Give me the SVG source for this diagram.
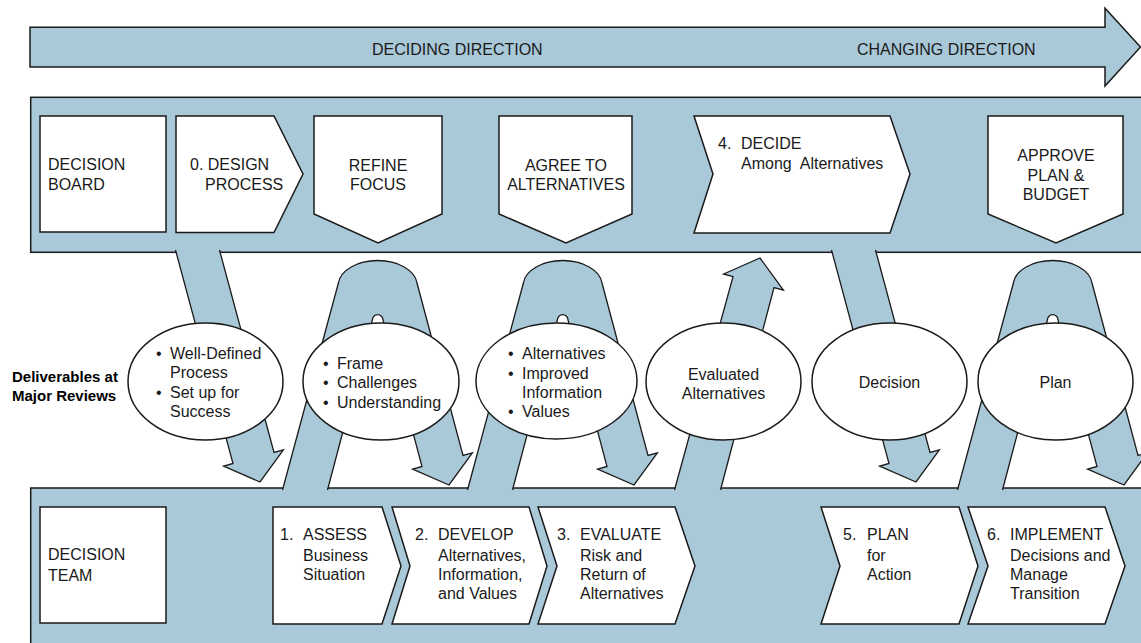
<svg xmlns="http://www.w3.org/2000/svg" width="1141" height="643" viewBox="0 0 1141 643">
<style>
.band{fill:#a9c8d8;stroke:#1a1a1a;stroke-width:1.5}
.box{fill:#ffffff;stroke:#1a1a1a;stroke-width:1.5;stroke-linejoin:miter}
.arr{fill:#a9c8d8;stroke:#1a1a1a;stroke-width:1.3;stroke-linejoin:miter}
.ell{fill:#ffffff;stroke:#1a1a1a;stroke-width:1.5}
.t{font-family:"Liberation Sans",Arial,Helvetica,sans-serif;font-size:16px;fill:#1a1a1a}
.m{text-anchor:middle}
.bd{font-family:"Liberation Sans",Arial,Helvetica,sans-serif;font-size:15px;font-weight:bold;fill:#000}
</style>
<rect width="1141" height="643" fill="#ffffff"/>

<g id="direction-arrow">
<path class="band" d="M30,27.3 H1105 V8.3 L1140.5,47 L1105,86 V67 H30 Z"/>
<text class="t" x="372" y="55">DECIDING DIRECTION</text>
<text class="t" x="857" y="55">CHANGING DIRECTION</text>
</g>

<g id="board-band">
<rect class="band" x="30.7" y="97.3" width="1125" height="155"/>
</g>
<g id="decision-board">
<rect class="box" x="40" y="116" width="126" height="116"/>
<text class="t" x="48" y="170">DECISION</text>
<text class="t" x="48" y="190">BOARD</text>
</g>
<g id="design-process">
<path class="box" d="M176,116 H274 L303,174 L274,232.5 H176 Z"/>
<text class="t" x="190" y="170">0. DESIGN</text>
<text class="t" x="205" y="190">PROCESS</text>
</g>
<g id="refine-focus">
<path class="box" d="M314,116 H442 V214 L378,243 L314,214 Z"/>
<text class="t m" x="378" y="170.5">REFINE</text>
<text class="t m" x="378" y="190">FOCUS</text>
</g>
<g id="agree-alternatives">
<path class="box" d="M499,116 H632 V214 L566,243 L499,214 Z"/>
<text class="t m" x="566" y="170.5">AGREE TO</text>
<text class="t m" x="566" y="190">ALTERNATIVES</text>
</g>
<g id="decide">
<path class="box" d="M694,116 H890 L910,174 L890,233 H694 L713,174 Z"/>
<text class="t" x="718" y="149">4.</text>
<text class="t" x="741" y="149">DECIDE</text>
<text class="t" x="741" y="168.5">Among&#160; Alternatives</text>
</g>
<g id="approve-plan">
<path class="box" d="M988,116 H1123 V214 L1056,243 L988,214 Z"/>
<text class="t m" x="1056" y="161">APPROVE</text>
<text class="t m" x="1056" y="180.5">PLAN &amp;</text>
<text class="t m" x="1056" y="200">BUDGET</text>
</g>

<g id="team-band">
<rect class="band" x="30.7" y="488" width="1125" height="170"/>
</g>
<g id="decision-team">
<rect class="box" x="40" y="507" width="126" height="116"/>
<text class="t" x="48" y="560">DECISION</text>
<text class="t" x="48" y="581">TEAM</text>
</g>
<g id="assess">
<path class="box" d="M273,507 H382 L401,566 L382,624 H273 Z"/>
<text class="t" x="280" y="540">1.</text>
<text class="t" x="303" y="540">ASSESS</text>
<text class="t" x="303" y="560.7">Business</text>
<text class="t" x="303" y="580">Situation</text>
</g>
<g id="develop">
<path class="box" d="M392,507 H529 L547,566 L529,624 H392 L410,566 Z"/>
<text class="t" x="415" y="540">2.</text>
<text class="t" x="438" y="540">DEVELOP</text>
<text class="t" x="438" y="560.7">Alternatives,</text>
<text class="t" x="438" y="580">Information,</text>
<text class="t" x="438" y="599.3">and Values</text>
</g>
<g id="evaluate">
<path class="box" d="M538,507 H675 L695,566 L675,624 H538 L557,566 Z"/>
<text class="t" x="557" y="540">3.</text>
<text class="t" x="580" y="540">EVALUATE</text>
<text class="t" x="580" y="560.7">Risk and</text>
<text class="t" x="580" y="580">Return of</text>
<text class="t" x="580" y="599.3">Alternatives</text>
</g>
<g id="plan-action">
<path class="box" d="M821,507 H959 L978,566 L959,624 H821 L840,566 Z"/>
<text class="t" x="843" y="540">5.</text>
<text class="t" x="867" y="540">PLAN</text>
<text class="t" x="867" y="560.7">for</text>
<text class="t" x="867" y="580">Action</text>
</g>
<g id="implement">
<path class="box" d="M968,507 H1105 L1125,566 L1105,624 H968 L988,566 Z"/>
<text class="t" x="987" y="540">6.</text>
<text class="t" x="1010" y="540">IMPLEMENT</text>
<text class="t" x="1010" y="560.7">Decisions and</text>
<text class="t" x="1010" y="580">Manage</text>
<text class="t" x="1010" y="599.3">Transition</text>
</g>

<g id="connectors">
<path class="arr" d="M175.5,250 L233,463.5 L223.6,466.1 L260,482 L283.4,449.9 L274,452.5 L219.5,250"/>
<path class="arr" d="M282.5,490 L338.4,283 A39.5,25 0 0 1 417,283 L463,455.5 L472.4,452.9 L449,485 L412.6,469.1 L422,466.5 L383,320 A5.3,5.3 0 0 0 372.4,320 L327.5,490"/>
<path class="arr" transform="translate(185,0)" d="M282.5,490 L338.4,283 A39.5,25 0 0 1 417,283 L463,455.5 L472.4,452.9 L449,485 L412.6,469.1 L422,466.5 L383,320 A5.3,5.3 0 0 0 372.4,320 L327.5,490"/>
<path class="arr" d="M674.5,490 L733,276.6 L723.6,274 L760,258 L783.4,290.2 L774,287.6 L720.5,490"/>
<path class="arr" transform="translate(656,0)" d="M175.5,250 L233,463.5 L223.6,466.1 L260,482 L283.4,449.9 L274,452.5 L219.5,250"/>
<path class="arr" transform="translate(675,0)" d="M282.5,490 L338.4,283 A39.5,25 0 0 1 417,283 L463,455.5 L472.4,452.9 L449,485 L412.6,469.1 L422,466.5 L383,320 A5.3,5.3 0 0 0 372.4,320 L327.5,490"/>
</g>

<g id="deliverables-label">
<text class="bd" x="12" y="382">Deliverables at</text>
<text class="bd" x="12" y="401">Major Reviews</text>
</g>
<g id="deliverable-process">
<ellipse class="ell" cx="205.5" cy="381.5" rx="77.5" ry="58.5"/>
<text class="t" x="156" y="359">•</text><text class="t" x="170" y="359">Well-Defined</text>
<text class="t" x="170" y="378.3">Process</text>
<text class="t" x="156" y="397.7">•</text><text class="t" x="170" y="397.7">Set up for</text>
<text class="t" x="170" y="416.7">Success</text>
</g>
<g id="deliverable-frame">
<ellipse class="ell" cx="381" cy="381.5" rx="78" ry="58.5"/>
<text class="t" x="323" y="369">•</text><text class="t" x="337" y="369">Frame</text>
<text class="t" x="323" y="388.3">•</text><text class="t" x="337" y="388.3">Challenges</text>
<text class="t" x="323" y="407.7">•</text><text class="t" x="337" y="407.7">Understanding</text>
</g>
<g id="deliverable-alternatives">
<ellipse class="ell" cx="556.5" cy="381" rx="80.5" ry="58"/>
<text class="t" x="508" y="359">•</text><text class="t" x="522" y="359">Alternatives</text>
<text class="t" x="508" y="379">•</text><text class="t" x="522" y="379">Improved</text>
<text class="t" x="522" y="397.7">Information</text>
<text class="t" x="508" y="417">•</text><text class="t" x="522" y="417">Values</text>
</g>
<g id="deliverable-evaluated">
<ellipse class="ell" cx="723.5" cy="381.5" rx="77.5" ry="58.5"/>
<text class="t m" x="723.5" y="380">Evaluated</text>
<text class="t m" x="723.5" y="399">Alternatives</text>
</g>
<g id="deliverable-decision">
<ellipse class="ell" cx="889.5" cy="381.5" rx="77.5" ry="58.5"/>
<text class="t m" x="889.5" y="388">Decision</text>
</g>
<g id="deliverable-plan">
<ellipse class="ell" cx="1055.5" cy="381.5" rx="77.5" ry="58.5"/>
<text class="t m" x="1055.5" y="388">Plan</text>
</g>
</svg>
